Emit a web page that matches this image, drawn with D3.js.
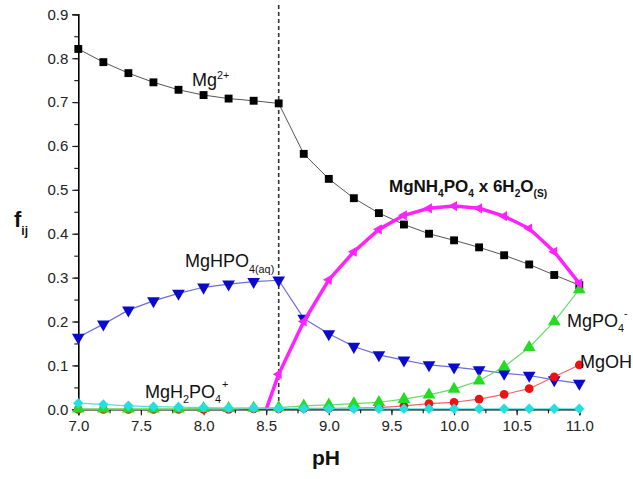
<!DOCTYPE html>
<html><head><meta charset="utf-8">
<script src="https://cdn.jsdelivr.net/npm/d3@7"></script>
<style>body{margin:0;background:#fff}svg{display:block;font-family:"Liberation Sans",Arial,sans-serif}</style>
</head><body><svg id="c" width="633" height="479"></svg>
<script>
const pH = [7.0,7.2,7.4,7.6,7.8,8.0,8.2,8.4,8.6,8.8,9.0,9.2,9.4,9.6,9.8,10.0,10.2,10.4,10.6,10.8,11.0];
const mg2 = [0.821,0.791,0.766,0.745,0.728,0.716,0.708,0.703,0.697,0.582,0.525,0.481,0.447,0.421,0.400,0.385,0.369,0.351,0.330,0.306,0.283];
const mgHPO4 = [0.164,0.194,0.226,0.247,0.264,0.278,0.285,0.291,0.294,0.207,0.172,0.143,0.124,0.112,0.101,0.096,0.090,0.082,0.077,0.067,0.059];
const mgPO4 = [0.001,0.001,0.001,0.001,0.001,0.002,0.002,0.003,0.004,0.008,0.010,0.013,0.016,0.023,0.033,0.046,0.065,0.097,0.141,0.200,0.273];
const mgOH = [0,0,0,0,0,0,0,0.001,0.001,0.002,0.002,0.003,0.004,0.008,0.013,0.016,0.023,0.034,0.047,0.074,0.101];
const mgH2PO4 = [0.014,0.011,0.008,0.006,0.005,0.004,0.003,0.003,0.002,0.001,0.001,0.001,0.001,0.001,0.001,0.001,0.001,0.001,0.001,0.001,0.001];
const struvitePH = [8.5,8.6,8.8,9.0,9.2,9.4,9.6,9.8,10.0,10.2,10.4,10.6,10.8,11.0];
const struvite = [0,0.080,0.200,0.295,0.359,0.410,0.442,0.458,0.463,0.458,0.440,0.412,0.359,0.287];
const xTicks = [7.0,7.5,8.0,8.5,9.0,9.5,10.0,10.5,11.0];
const yTicks = [0,0.1,0.2,0.3,0.4,0.5,0.6,0.7,0.8,0.9];
const dashedPH = 8.6;

const svg = d3.select("#c");
const x = d3.scaleLinear().domain([7,11]).range([78.3,579.3]);
const y = d3.scaleLinear().domain([0,0.9]).range([409.3,14.3]);

// axes
const xAxisG = svg.append("g").attr("transform","translate(0,409.3)");
xAxisG.call(d3.axisBottom(x).tickValues(d3.range(7,11.001,0.25)).tickSize(4).tickFormat(""));
xAxisG.selectAll(".domain").remove();
const xAxisMaj = svg.append("g").attr("transform","translate(0,409.3)");
xAxisMaj.call(d3.axisBottom(x).tickValues(xTicks).tickSize(6).tickPadding(5).tickFormat(d3.format(".1f")));
xAxisMaj.selectAll("text").attr("font-size",15).attr("fill","#222");
xAxisMaj.selectAll(".domain").attr("stroke-width",1.6);

const yAxisG = svg.append("g").attr("transform","translate(78.3,0)");
yAxisG.call(d3.axisLeft(y).tickValues(d3.range(0,0.9001,0.05)).tickSize(4).tickFormat(""));
yAxisG.selectAll(".domain").remove();
const yAxisMaj = svg.append("g").attr("transform","translate(78.3,0)");
yAxisMaj.call(d3.axisLeft(y).tickValues(yTicks).tickSize(6).tickPadding(4).tickFormat(d3.format(".1f")));
yAxisMaj.selectAll("text").attr("font-size",15).attr("fill","#222");
yAxisMaj.selectAll(".domain").attr("stroke-width",1.6);
svg.selectAll(".tick line").attr("stroke","#222").attr("stroke-width",1.2);

// dashed line
svg.append("line").attr("x1",x(dashedPH)).attr("x2",x(dashedPH)).attr("y1",5).attr("y2",y(0))
  .attr("stroke","#333").attr("stroke-width",1.6).attr("stroke-dasharray","4,3");

const rot = (xs,ys,lc,lw,mc,sz,angle,shape,skip)=>{
  const data = xs.map((v,i)=>[v,ys[i]]);
  svg.append("path").datum(data).attr("fill","none").attr("stroke",lc).attr("stroke-width",lw)
    .attr("stroke-linejoin","round")
    .attr("d", d3.line().x(d=>x(d[0])).y(d=>y(d[1])));
  svg.append("g").selectAll("path").data(skip?data.slice(skip):data).join("path")
    .attr("d", d3.symbol().type(shape).size(sz)).attr("fill",mc)
    .attr("transform", d=>`translate(${x(d[0])},${y(d[1])}) rotate(${angle})`);
};

rot(pH, mg2, "#555", 1, "#000", 62, 0, d3.symbolSquare);
rot(pH, mgHPO4, "#6c6cd8", 1.2, "#0a0acc", 70, 180, d3.symbolTriangle);
rot(pH, mgOH, "#ee6666", 1.2, "#ee1111", 60, 0, d3.symbolCircle);
rot(pH, mgPO4, "#66dd66", 1.2, "#22dd22", 70, 0, d3.symbolTriangle);
rot(struvitePH, struvite, "#ff22ff", 3.5, "#ff22ff", 45, -90, d3.symbolTriangle, 1);
rot(pH, mgH2PO4, "#55dddd", 1.2, "#22e0e0", 55, 45, d3.symbolSquare);

// labels: parts = [text, dy, fontScale, dx]
function label(px, py, parts, size, weight){
  const t = svg.append("text").attr("x",px).attr("y",py).attr("font-size",size).attr("font-weight",weight||"normal").attr("fill","#111");
  parts.forEach(p=>{
    const ts = t.append("tspan").text(p[0]);
    if(p[1]) ts.attr("dy",p[1]);
    if(p[2]) ts.attr("font-size",size*p[2]);
    if(p[3]) ts.attr("dx",p[3]);
  });
  return t;
}
const S = 0.6;
label(192, 86, [["Mg"],["2+",-7,S]], 18);
label(389, 192, [["MgNH"],["4",5,S],["PO",-5],["4",5,S],[" x 6H",-5],["2",5,S],["O",-5],["(S)",5,S]], 17, "bold");
label(185, 267, [["MgHPO"],["4(aq)",6,S]], 18);
label(145, 398, [["MgH"],["2",5,S],["PO",-5],["4",5,S],["+",-15,S,1]], 18);
label(567, 327, [["MgPO"],["4",5,S],["-",-15,S,0]], 18);
label(580, 368, [["MgOH"]], 18);

// axis titles
const ft = svg.append("text").attr("x",14).attr("y",227).attr("font-size",22).attr("font-weight","bold").attr("fill","#111");
ft.append("tspan").text("f");
ft.append("tspan").text("ij").attr("font-size",12).attr("dy",8);
svg.append("text").attr("x",326).attr("y",465).attr("text-anchor","middle").attr("font-size",21).attr("font-weight","bold").attr("fill","#111").text("pH");
</script></body></html>
